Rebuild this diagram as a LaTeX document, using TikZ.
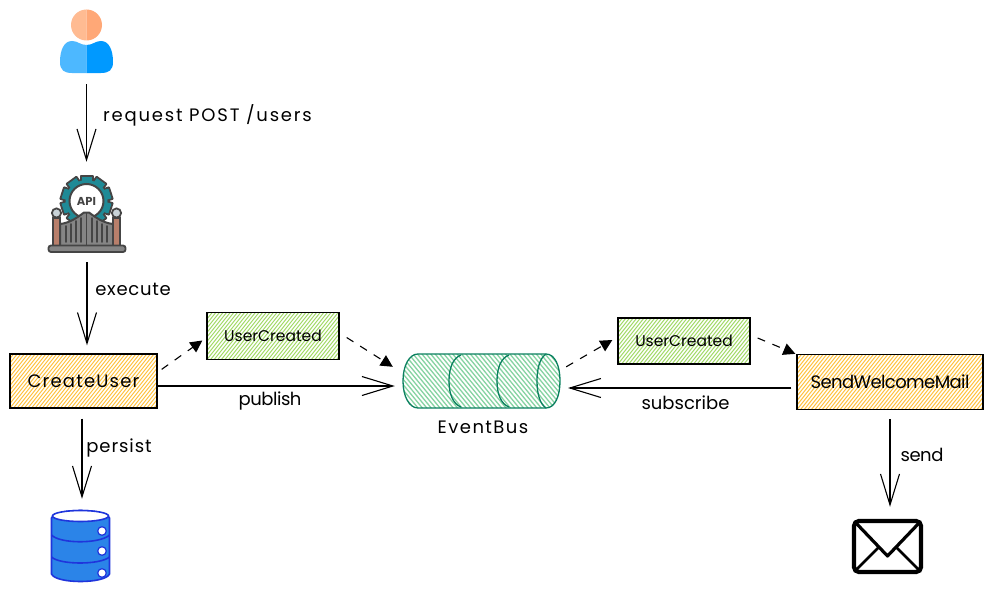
\documentclass[tikz,border=0pt]{standalone}
\usepackage{fontspec}
\setmainfont{Poppins}
\usetikzlibrary{arrows.meta}
\newcommand{\lsp}[1]{\addfontfeature{LetterSpace=#1}}
\definecolor{gatedark}{HTML}{454545}
\definecolor{gategray}{HTML}{858585}
\definecolor{gearteal}{HTML}{1F8A96}
\definecolor{postbrown}{HTML}{B87F6B}
\definecolor{ballgray}{HTML}{C9D3D8}
\definecolor{dbblue}{HTML}{2B84E8}
\definecolor{dbline}{HTML}{1F35DC}
\definecolor{busline}{HTML}{0B8060}
\definecolor{bushatch}{HTML}{86D3A2}
\definecolor{orangehatch}{HTML}{FFC23E}
\definecolor{greenhatch}{HTML}{A2DA66}
\tikzset{
  x=1pt,y=-1pt,
  lbl/.style={inner sep=0pt,font=\fontsize{18}{20}\selectfont},
  small/.style={inner sep=0pt,font=\fontsize{15.5}{18}\selectfont},
  icon/.style={inner sep=0pt,draw=none},
  hatchbox/.style={draw=black,line width=1.3pt,inner sep=0pt,
    path picture={
      \foreach \i in {0,3.6,...,330}{
        \draw[#1,line width=1pt]
          ([xshift=\i-90]path picture bounding box.south west) -- ++(60,-75);
      }}},
  flow/.style={-{Straight Barb[length=31pt,width=19pt,line width=1.1pt]},line width=1.1pt,black},
  dashflow/.style={-{Triangle[length=12pt,width=12pt]},line width=1.1pt,black,dash pattern=on 8pt off 8pt},
}
\begin{document}
\begin{tikzpicture}
\useasboundingbox (0,0) rectangle (992,594);
\fill[white] (0,0) rectangle (992,594);

% icon anchors
\node[icon,minimum width=53,minimum height=64] (user) at (86.5,42) {};
\node[icon,minimum width=78,minimum height=78] (gate) at (87,214) {};
\node[icon,minimum width=60,minimum height=74] (db) at (80.5,546) {};
\node[icon,minimum width=71,minimum height=55] (mail) at (887.5,546.5) {};

% person
\begin{scope}
  \clip (40,0) rectangle (86.5,80);
  \fill[fill={rgb,255:red,255;green,187;blue,146}] (86.5,25) circle[radius=15.5];
  \fill[fill={rgb,255:red,77;green,184;blue,255}] (86.5,45) .. controls (80,45) and (78,41) .. (72,41)
    .. controls (64,41) and (60,50) .. (60,62) .. controls (60,70) and (64,73) .. (72,73)
    -- (101,73) .. controls (109,73) and (113,70) .. (113,62)
    .. controls (113,50) and (109,41) .. (101,41) .. controls (95,41) and (93,45) .. (86.5,45) -- cycle;
\end{scope}
\begin{scope}
  \clip (86.5,0) rectangle (130,80);
  \fill[fill={rgb,255:red,255;green,168;blue,119}] (86.5,25) circle[radius=15.5];
  \fill[fill={rgb,255:red,0;green,153;blue,255}] (86.5,45) .. controls (80,45) and (78,41) .. (72,41)
    .. controls (64,41) and (60,50) .. (60,62) .. controls (60,70) and (64,73) .. (72,73)
    -- (101,73) .. controls (109,73) and (113,70) .. (113,62)
    .. controls (113,50) and (109,41) .. (101,41) .. controls (95,41) and (93,45) .. (86.5,45) -- cycle;
\end{scope}

% API gateway: gear
\foreach \a in {0,36,...,324}{
  \filldraw[draw=gatedark,fill=gearteal,line width=2pt,line join=round,rotate around={\a:(86.5,201)}]
    (80.5,175.5) rectangle (92.5,188);
}
\filldraw[draw=gatedark,fill=gearteal,line width=2pt] (86.5,201) circle[radius=21];
\foreach \a in {0,36,...,324}{
  \fill[gearteal,rotate around={\a:(86.5,201)}] (81.5,176.5) rectangle (91.5,188);
}
\fill[gearteal] (86.5,201) circle[radius=21];
\filldraw[draw=gatedark,fill=white,line width=2pt] (86.5,201) circle[radius=17];
\node[inner sep=0pt,text=gatedark,font=\fontsize{11.5}{12}\selectfont\bfseries] at (86.5,201.5) {API};
% gate
\filldraw[draw=gatedark,fill=gategray,line width=2pt,line join=round]
  (60,246) -- (60,224) .. controls (70,223) and (78,217) .. (84,212.5)
  -- (89,212.5) .. controls (95,217) and (103,223) .. (113,224) -- (113,246) -- cycle;
\draw[gatedark,line width=1.6pt] (86.5,212) -- (86.5,246);
\foreach \xa/\ya in {66/226,71/224,76/221,81/218,92/218,97/221,102/224,107/226}{
  \draw[gatedark,line width=1.8pt,line cap=round] (\xa,\ya) -- (\xa,242);
}
\filldraw[draw=gatedark,fill=postbrown,line width=1.8pt] (53,218) rectangle (60,246);
\filldraw[draw=gatedark,fill=postbrown,line width=1.8pt] (113,218) rectangle (120,246);
\filldraw[draw=gatedark,fill=ballgray,line width=1.8pt] (56.5,213) circle[radius=4.6];
\filldraw[draw=gatedark,fill=ballgray,line width=1.8pt] (116.5,213) circle[radius=4.6];
\filldraw[draw=gatedark,fill=gategray,line width=1.8pt,rounded corners=2.5pt] (48.5,245.5) rectangle (125.5,252);

% boxes
\node[hatchbox=orangehatch,minimum width=147,minimum height=54,lbl] (cu) at (83.5,381) {\lsp{6.5}CreateUser};
\node[hatchbox=greenhatch,minimum width=132,minimum height=47,small] (uca) at (273,336) {UserCreated};
\node[hatchbox=greenhatch,minimum width=132,minimum height=46,small] (ucb) at (684,341) {UserCreated};
\node[hatchbox=orangehatch,minimum width=186,minimum height=55,lbl] (swm) at (890,382) {\lsp{-3.3}SendWelcomeMail};

% event bus
\node[icon,minimum width=157,minimum height=54] (bus) at (481.5,381) {};
\begin{scope}
  \clip (418,354) -- (546,354) .. controls (555,354) and (560,366) .. (560,381)
     .. controls (560,396) and (555,408) .. (546,408) -- (418,408)
     .. controls (409,408) and (403,396) .. (403,381)
     .. controls (403,366) and (409,354) .. (418,354) -- cycle;
  \foreach \i in {0,4.4,...,270}{
    \draw[bushatch,line width=1.3pt] (\i+340,340) -- ++(70,85);
  }
\end{scope}
\draw[busline,line width=1.3pt] (418,354) -- (546,354) .. controls (555,354) and (560,366) .. (560,381)
     .. controls (560,396) and (555,408) .. (546,408) -- (418,408)
     .. controls (409,408) and (403,396) .. (403,381)
     .. controls (403,366) and (409,354) .. (418,354) -- cycle;
\draw[busline,line width=1.3pt] (461,355) .. controls (453,358) and (449,368) .. (449,381) .. controls (449,394) and (453,404) .. (461,407);
\draw[busline,line width=1.3pt] (509,355) .. controls (501,358) and (497,368) .. (497,381) .. controls (497,394) and (501,404) .. (509,407);
\draw[busline,line width=1.3pt] (546,354) .. controls (540,358) and (537,368) .. (537,381) .. controls (537,394) and (540,404) .. (546,408);

% database
\filldraw[draw=dbline,fill=dbblue,line width=1.6pt]
  (51.5,518) -- (51.5,574) .. controls (56,584) and (105,584) .. (109.5,574) -- (109.5,518)
  .. controls (105,508) and (56,508) .. (51.5,518) -- cycle;
\filldraw[draw=dbline,fill=white,line width=1.6pt] (80.5,516) ellipse[x radius=28,y radius=5.5];
\draw[dbline,line width=1.6pt] (51.5,535) .. controls (60,544) and (100,544) .. (109.5,535);
\draw[dbline,line width=1.6pt] (51.5,557) .. controls (60,565) and (100,565) .. (109.5,557);
\filldraw[draw=dbline,fill=white,line width=1.2pt] (102,531) circle[radius=4.3];
\filldraw[draw=dbline,fill=white,line width=1.2pt] (102,551) circle[radius=4.3];
\filldraw[draw=dbline,fill=white,line width=1.2pt] (102,573) circle[radius=4.3];

% mail
\draw[black,line width=4.3pt,rounded corners=5pt,fill=white] (854,521) rectangle (921,572);
\draw[black,line width=3.2pt,line join=round] (855,522) -- (887.5,556) -- (920,522);
\draw[black,line width=2.6pt] (856,570) -- (879,547);
\draw[black,line width=2.6pt] (919,570) -- (896,547);

% connectors
\draw[flow,shorten <=10pt,shorten >=13pt] (user.south) -- (gate.north -| user.south);
\draw[flow,shorten <=9pt,shorten >=8pt] ([xshift=0pt]gate.south) -- ([xshift=3.5pt]cu.north);
\draw[flow,shorten <=10pt,shorten >=10pt] ([xshift=-1.5pt]cu.south) -- ([xshift=1.5pt]db.north);
\draw[flow,shorten >=8pt] (cu.east |- 0,386) -- (bus.west |- 0,386);
\draw[flow,shorten <=5pt,shorten >=3pt] (swm.west |- 0,388) -- (565,388);
\draw[flow,shorten <=9pt,shorten >=12pt] (swm.south) -- (mail.north -| swm.south);
\draw[dashflow] ([xshift=4pt,yshift=-16pt]cu.north east) -- ([xshift=-4pt,yshift=-4.5pt]uca.west);
\draw[dashflow] ([xshift=7pt,yshift=-1.5pt]uca.east) -- ([xshift=-10pt,yshift=-13pt]bus.north west);
\draw[dashflow] ([xshift=6pt,yshift=-13pt]bus.north east) -- ([xshift=-5pt,yshift=1pt]ucb.west);
\draw[dashflow] ([xshift=7pt,yshift=3pt]ucb.east) -- ([xshift=-1pt,yshift=0pt]swm.north west);

% labels
\node[lbl,name=lreq] at (207.5,115) {\lsp{10}request POST /users};
\node[lbl,name=lexe] at (133,289) {\lsp{4}execute};
\node[lbl,name=lpub] at (270,401) {\lsp{-2.5}publish};
\node[lbl,name=lper] at (119,448) {\lsp{5}persist};
\node[lbl,name=lsen] at (922,455) {\lsp{-2.5}send};
\node[lbl,name=lsub] at (685.5,403) {subscribe};
\node[lbl,name=lbus] at (483,427) {\lsp{8}EventBus};
\end{tikzpicture}
\end{document}
